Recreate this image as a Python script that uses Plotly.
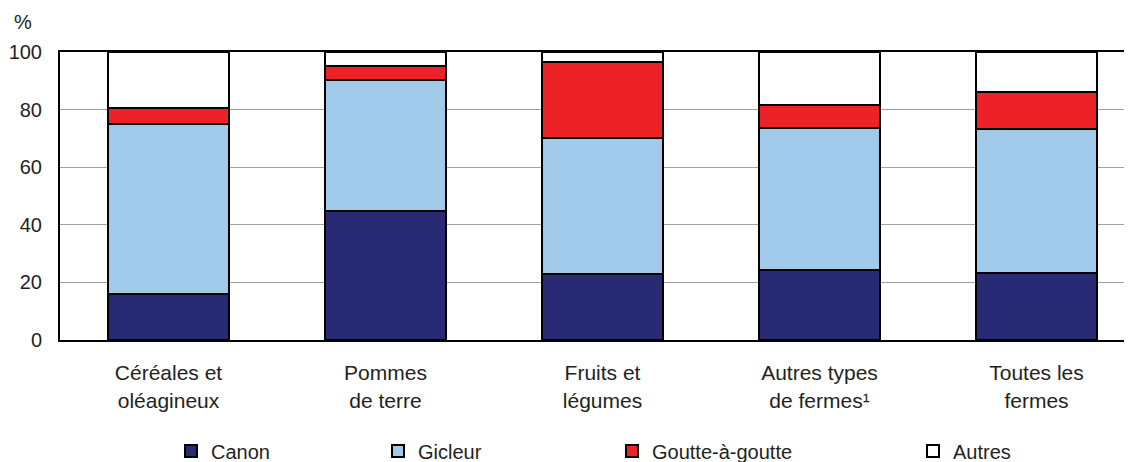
import plotly.graph_objects as go

# data (percent of irrigated farms by method)
categories = ["Céréales et<br>oléagineux", "Pommes<br>de terre", "Fruits et<br>légumes",
              "Autres types<br>de fermes¹", "Toutes les<br>fermes"]
canon = [16.1, 44.7, 22.8, 24.2, 23.4]
gicleur = [58.9, 45.6, 47.2, 49.3, 49.7]
goutte = [5.6, 4.8, 26.5, 8.1, 13.1]
autres = [19.4, 4.9, 3.5, 18.4, 13.8]

# name, values, colour, legend id, legend text start (page px)
series = [
    ("Canon", canon, "#282a73", "legend", 209),
    ("Gicleur", gicleur, "#a0c9ea", "legend2", 416),
    ("Goutte-à-goutte", goutte, "#ec2227", "legend3", 650),
    ("Autres", autres, "#ffffff", "legend4", 951),
]

font = "Liberation Sans, Arial, Helvetica, sans-serif"
ink = "#231f20"
OFF = 8  # page body margin
W, H = 1124, 454

fig = go.Figure()
for name, vals, col, leg, _ in series:
    fig.add_trace(go.Bar(x=categories, y=vals, name=name, legend=leg, showlegend=True,
                         marker=dict(color=col, line=dict(color="#000000", width=2))))

layout_legends = {}
for name, vals, col, leg, txt in series:
    left = txt - 38 - OFF
    layout_legends[leg] = dict(xref="container", yref="container",
                               x=left / W, y=(H - (451 - OFF)) / H,
                               xanchor="left", yanchor="middle",
                               orientation="h", bgcolor="rgba(0,0,0,0)",
                               font=dict(family=font, size=20, color=ink),
                               itemwidth=30)

fig.update_layout(
    barmode="stack",
    bargap=0.443,
    width=W, height=H,
    showlegend=True,
    margin=dict(l=60 - OFF, r=0, t=52 - OFF, b=H - (340 - OFF), autoexpand=False),
    paper_bgcolor="white", plot_bgcolor="white",
    font=dict(family=font, size=20, color=ink),
    **layout_legends,
)
fig.update_xaxes(range=[-0.5, 4.44], showline=True, linecolor="#000000", linewidth=2,
                 mirror=True, showgrid=False, ticks="", automargin=False,
                 ticklabelstandoff=13, tickfont=dict(size=21))
fig.update_yaxes(range=[0, 100], dtick=20, showline=True, linecolor="#000000", linewidth=2,
                 showgrid=True, gridcolor="#a0a0a0", gridwidth=1, ticks="", automargin=False,
                 ticklabelstandoff=12, tickfont=dict(size=20), zeroline=False)
fig.add_annotation(text="%", xref="paper", yref="paper", x=(12 - 60) / 1072, y=(340 - 22) / 288,
                   xanchor="left", yanchor="middle", showarrow=False,
                   font=dict(size=20, color=ink))

fig.write_html("out.html")
